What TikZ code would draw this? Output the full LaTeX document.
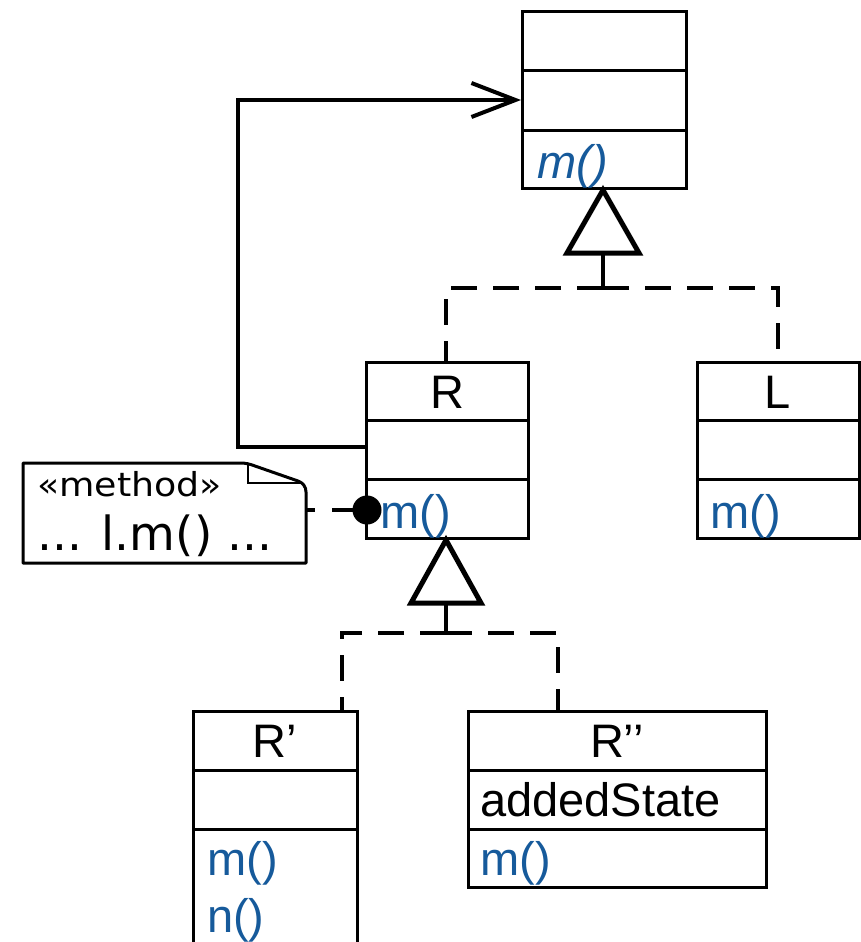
\documentclass[tikz,border=0pt]{standalone}
\usepackage{fontspec}
\setmainfont{Liberation Sans}
\newfontfamily\notefont{DejaVu Sans}
\usetikzlibrary{arrows.meta}
\definecolor{mblue}{RGB}{22,90,155}
\begin{document}
\begin{tikzpicture}[x=1pt,y=-1pt,
  cls/.style={draw,line width=3pt,rectangle,inner sep=0pt,outer sep=0pt,anchor=north west},
  div/.style={line width=3pt},
  lbl/.style={inner sep=0pt,anchor=base,font=\fontsize{47}{56}\selectfont},
  mth/.style={inner sep=0pt,anchor=base west,text=mblue,font=\fontsize{47}{56}\selectfont},
  txt/.style={inner sep=0pt,anchor=base west,font=\fontsize{47}{56}\selectfont},
  gen/.style={line width=5pt,line join=miter,fill=white},
  stem/.style={line width=4pt},
  dsh/.style={line width=4pt,dash pattern=on 26pt off 16pt},
  assoc/.style={line width=4pt,line join=miter,-{Straight Barb[length=44pt,width=34pt,line width=4pt]}}
]
\clip (0,0) rectangle (861,942);
\fill[white] (0,0) rectangle (861,942);
% top class
\node[cls,minimum width=164pt,minimum height=176pt] (A) at (522,12) {};
\draw[div] (522,71) -- (686,71);
\draw[div] (522,130) -- (686,130);
\node[mth,font=\fontsize{47}{56}\selectfont\itshape] (Am) at (537,178) {m()};
% R
\node[cls,minimum width=162pt,minimum height=176pt] (R) at (366,362) {};
\draw[div] (366,420) -- (528,420);
\draw[div] (366,479) -- (528,479);
\node[lbl] (Rn) at (447,408) {R};
\node[mth] (Rm) at (380,528) {m()};
% L
\node[cls,minimum width=162pt,minimum height=176pt] (L) at (697,362) {};
\draw[div] (697,420) -- (859,420);
\draw[div] (697,479) -- (859,479);
\node[lbl] (Ln) at (778,408) {L};
\node[mth] (Lm) at (710,528) {m()};
% R'
\coordinate (R1) at (275,711);
\draw[div] (193,960) -- (193,711) -- (357,711) -- (357,960);
\draw[div] (193,770) -- (357,770);
\draw[div] (193,829) -- (357,829);
\node[lbl] (R1n) at (275,757) {R’};
\node[mth] (R1m) at (207,875) {m()};
\node[mth] (R1nn) at (207,932) {n()};
% R''
\node[cls,minimum width=298pt,minimum height=176pt] (R2) at (468,711) {};
\draw[div] (468,770) -- (766,770);
\draw[div] (468,829) -- (766,829);
\node[lbl] (R2n) at (617,757) {R’’};
\node[txt] (R2a) at (480,816) {addedState};
\node[mth] (R2m) at (480,875) {m()};
% generalization 1
\coordinate (T1) at (603,190);
\coordinate (T1b) at (603,253);
\coordinate (J1) at (603,288);
\draw[stem] (T1b) -- (J1);
\draw[dsh] (J1) -- (446,288) -- (446,362);
\draw[dsh] (J1) -- (778,288) -- (778,362);
\draw[gen] (T1) -- (639,253) -- (567,253) -- cycle;
% generalization 2
\coordinate (T2) at (446,540);
\coordinate (T2b) at (446,603);
\coordinate (J2) at (446,633);
\draw[stem] (T2b) -- (J2);
\draw[dsh] (J2) -- (342,633) -- (342,711);
\draw[dsh] (J2) -- (558,633) -- (558,711);
\draw[gen] (T2) -- (481,603) -- (411,603) -- cycle;
% association
\coordinate (As) at (366,447);
\coordinate (Ae) at (521,100);
\draw[assoc] (As) -- (238,447) -- (238,100) -- (Ae);
% note
\draw[line width=3pt,line join=round,fill=white] (23,463) -- (240,463) to[out=0,in=160] (255,466) -- (298,481) to[out=-20,in=90] (306,492) -- (306,563) -- (23,563) -- cycle;
\draw[line width=2pt] (248,463) -- (248,483) -- (303,483);
\node[inner sep=0pt,anchor=base west,font=\notefont\fontsize{33}{40}\selectfont] (nm) at (37,496) {\scalebox{1.1}[1]{«method»}};
\node[inner sep=0pt,anchor=base west,font=\notefont\fontsize{47}{56}\selectfont] (nt) at (37,550) {... l.m() ...};
\coordinate (Ne) at (306,510);
\node[circle,fill=black,inner sep=0pt,minimum size=29pt] (dot) at (367,510) {};
\draw[line width=4pt,dash pattern=on 9pt off 17pt on 60pt] (Ne) -- (dot.center);
\end{tikzpicture}
\end{document}
